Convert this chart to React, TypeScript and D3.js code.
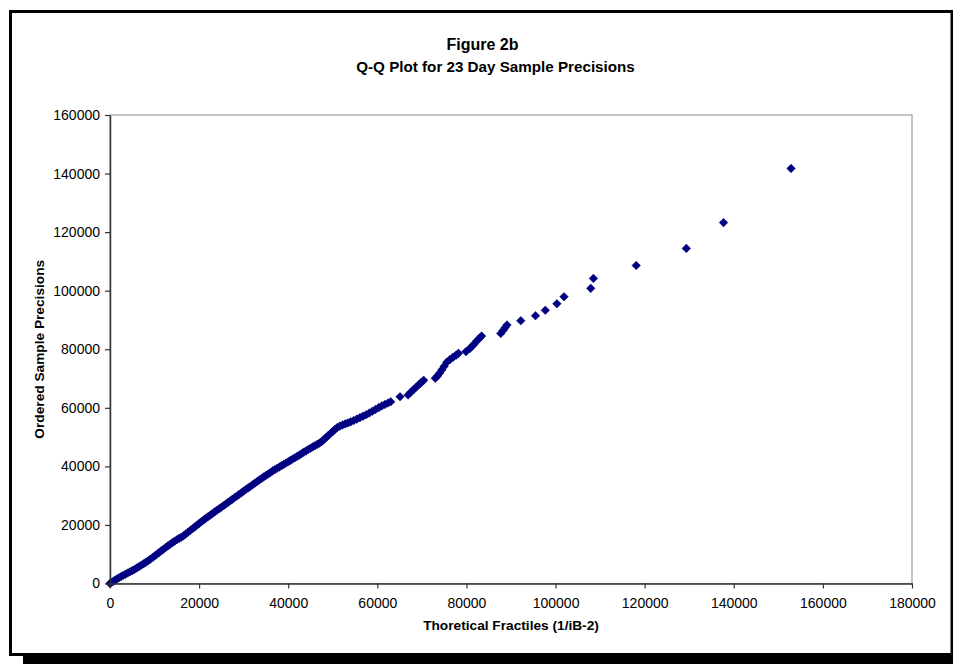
import React, { useRef, useEffect } from 'react';
import * as d3 from 'd3';

// Q-Q plot values (x = theoretical fractile, y = ordered sample precision)
const theoreticalFractiles = [
  0, 300, 700, 1100, 1500, 2000, 2500, 3000, 3500, 4000, 4500, 5000, 5500, 6000, 6500, 7000, 7500, 8000, 8500, 9000,
  9500, 10000, 10500, 11000, 11500, 12000, 12500, 13000, 13500, 14000, 14500, 15000, 15500, 16000, 16500, 17000,
  17500, 18000, 18500, 19000, 19500, 20000, 20500, 21000, 21500, 22000, 22500, 23000, 23500, 24000, 24500, 25000,
  25500, 26000, 26500, 27000, 27500, 28000, 28500, 29000, 29500, 30000, 30500, 31000, 31500, 32000, 32500, 33000,
  33500, 34000, 34500, 35000, 35500, 36000, 36500, 37000, 37500, 38000, 38500, 39000, 39500, 40000, 40500, 41000,
  41500, 42000, 42500, 43000, 43500, 44000, 44500, 45000, 45500, 46000, 46500, 47000, 47500, 48000, 48500, 49000,
  49500, 50000, 50500, 51000, 51600, 52200, 52800, 53400, 54000, 54700, 55400, 56100, 56800, 57500, 58200, 58900,
  59600, 60300, 61000, 61700, 62400, 63000,
  65100,
  66900, 67500, 68100, 68700, 69300, 69900, 70400,
  73000, 73500, 74000, 74500, 75000, 75600, 76300, 77000, 77700, 78200,
  79900,
  80800, 81300, 81800, 82300, 82900, 83400,
  87700, 88200, 88700, 89100,
  92200, 95500, 97700, 100300, 101900, 107900, 108500, 118100, 129350, 137700, 152850
];

const orderedPrecisions = [
  0, 350, 700, 1100, 1500, 1950, 2400, 2800, 3200, 3600, 4000, 4400, 4800, 5300, 5750, 6250, 6700, 7200, 7700, 8250,
  8800, 9400, 9950, 10550, 11150, 11700, 12300, 12850, 13400, 13950, 14450, 14950, 15400, 15800, 16300, 16900,
  17500, 18100, 18700, 19300, 19900, 20500, 21100, 21700, 22250, 22800, 23350, 23900, 24450, 25000, 25550, 26050,
  26600, 27150, 27700, 28250, 28800, 29350, 29900, 30450, 31000, 31550, 32100, 32650, 33150, 33700, 34250, 34800,
  35350, 35850, 36400, 36900, 37400, 37900, 38450, 38900, 39350, 39800, 40250, 40700, 41150, 41600, 42050, 42500,
  42950, 43400, 43850, 44350, 44850, 45300, 45750, 46200, 46650, 47050, 47500, 47950, 48450, 49150, 49850, 50550,
  51250, 51950, 52650, 53250, 53750, 54150, 54500, 54850, 55200, 55650, 56150, 56650, 57150, 57650, 58250, 58850,
  59450, 60050, 60650, 61150, 61650, 62050,
  63800,
  64400, 65300, 66200, 67000, 67900, 68700, 69400,
  70100, 70900, 71900, 73000, 74200, 75600, 76500, 77300, 78000, 78600,
  79200,
  80300, 81100, 81900, 82800, 83700, 84500,
  85400, 86400, 87400, 88300,
  89750, 91450, 93300, 95550, 97950, 100800, 104200, 108600, 114450, 123250, 141750
];

const xTicks = [0, 20000, 40000, 60000, 80000, 100000, 120000, 140000, 160000, 180000];
const yTicks = [0, 20000, 40000, 60000, 80000, 100000, 120000, 140000, 160000];

const titleLines = ['Figure 2b', 'Q-Q Plot for 23 Day Sample Precisions'];
const xTitle = 'Thoretical Fractiles (1/iB-2)';
const yTitle = 'Ordered Sample Precisions';

const FONT = 'Arial, "Liberation Sans", Helvetica, sans-serif';

const QQChart: React.FC = () => {
  const svgRef = useRef<SVGSVGElement>(null);
  const width = 953;
  const height = 664;

  useEffect(() => {
    if (!svgRef.current) return;
    const svg = d3.select(svgRef.current);
    svg.selectAll('*').remove();

    const plot = { left: 110, top: 115, right: 912, bottom: 583.5 };

    // frame with drop shadow
    svg.append('rect')
      .attr('x', 23).attr('y', 24)
      .attr('width', 941).attr('height', 643)
      .attr('fill', '#000');
    svg.append('rect')
      .attr('x', 10.5).attr('y', 11.5)
      .attr('width', 941.5).attr('height', 643)
      .attr('fill', '#fff')
      .attr('stroke', '#000')
      .attr('stroke-width', 3);

    const x = d3.scaleLinear().domain([0, 180000]).range([plot.left, plot.right]);
    const y = d3.scaleLinear().domain([0, 160000]).range([plot.bottom, plot.top]);

    // plot area border (top / right in grey)
    svg.append('rect')
      .attr('x', plot.left).attr('y', plot.top)
      .attr('width', plot.right - plot.left)
      .attr('height', plot.bottom - plot.top)
      .attr('fill', '#fff')
      .attr('stroke', '#a0a0a0')
      .attr('stroke-width', 1.2);

    // points
    const pts = theoreticalFractiles.map((v, i) => ({ tx: v, sy: orderedPrecisions[i] }));
    const r = 4.3;
    const diamond = `M0,${-r}L${r},0L0,${r}L${-r},0Z`;
    svg.append('g')
      .selectAll('path')
      .data(pts)
      .join('path')
      .attr('d', diamond)
      .attr('transform', d => `translate(${x(d.tx)},${y(d.sy)})`)
      .attr('fill', '#000080')
      .attr('stroke', '#000080')
      .attr('stroke-width', 0.5);

    // axes
    const xAxis = d3.axisBottom(x)
      .tickValues(xTicks)
      .tickFormat(d => String(d))
      .tickSizeInner(5)
      .tickSizeOuter(0)
      .tickPadding(10);
    const gx = svg.append('g')
      .attr('transform', `translate(0,${plot.bottom})`)
      .call(xAxis);

    const yAxis = d3.axisLeft(y)
      .tickValues(yTicks)
      .tickFormat(d => String(d))
      .tickSizeInner(5)
      .tickSizeOuter(0)
      .tickPadding(5);
    const gy = svg.append('g')
      .attr('transform', `translate(${plot.left},0)`)
      .call(yAxis);

    [gx, gy].forEach(g => {
      g.select('.domain').attr('stroke', '#333').attr('stroke-width', 1.5);
      g.selectAll('.tick line').attr('stroke', '#333').attr('stroke-width', 1.2);
      g.selectAll('.tick text')
        .attr('fill', '#000')
        .style('font-family', FONT)
        .style('font-size', '14px');
    });

    // titles
    svg.append('text')
      .attr('x', 482.5)
      .attr('y', 50)
      .attr('text-anchor', 'middle')
      .style('font-family', FONT)
      .style('font-size', '16px')
      .style('font-weight', 'bold')
      .text(titleLines[0]);
    svg.append('text')
      .attr('x', 495.5)
      .attr('y', 72)
      .attr('text-anchor', 'middle')
      .style('font-family', FONT)
      .style('font-size', '15.2px')
      .style('font-weight', 'bold')
      .text(titleLines[1]);

    svg.append('text')
      .attr('x', (plot.left + plot.right) / 2)
      .attr('y', 630)
      .attr('text-anchor', 'middle')
      .style('font-family', FONT)
      .style('font-size', '13.7px')
      .style('font-weight', 'bold')
      .text(xTitle);

    svg.append('text')
      .attr('transform', `translate(44,${(plot.top + plot.bottom) / 2}) rotate(-90)`)
      .attr('text-anchor', 'middle')
      .style('font-family', FONT)
      .style('font-size', '13.7px')
      .style('font-weight', 'bold')
      .text(yTitle);
  }, []);

  return (
    <svg
      ref={svgRef}
      width={width}
      height={height}
      style={{ position: 'absolute', left: 0, top: 0, background: '#fff' }}
    />
  );
};

export default function App() {
  return <QQChart />;
}
